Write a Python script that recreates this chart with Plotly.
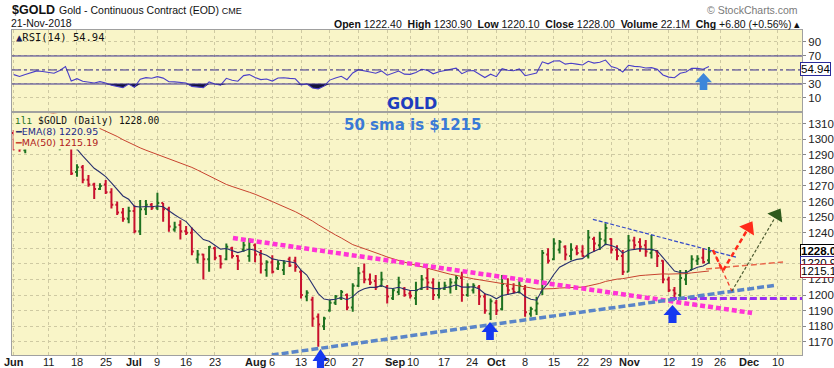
import numpy as np
import plotly.graph_objects as go

# ---------------- data ----------------
# warm-up closes (late Mar - May 2018) used only to seed MA(50), EMA(8), RSI(14)
warm_close = [1317.6, 1311.6, 1332.4, 1328.0, 1349.8, 1354.6, 1341.9, 1325.4, 1327.3,
              1346.7, 1337.3, 1340.3, 1327.3, 1336.0, 1336.5, 1341.3, 1353.2, 1341.1, 1347.9,
              1350.0, 1346.5, 1352.4, 1348.0, 1338.3, 1326.2, 1333.2, 1323.3, 1317.7, 1323.4, 1315.9,
              1305.6, 1306.3, 1311.8, 1314.7, 1313.7, 1313.7, 1313.0, 1322.4, 1320.5, 1318.6,
              1290.3, 1291.3, 1289.4, 1291.3, 1291.3, 1291.7, 1293.7, 1304.1, 1303.7, 1297.5,
              1303.4, 1298.5]

# daily bars, 1-Jun-2018 .. 21-Nov-2018 (trading days)
opens = [1304, 1299, 1293, 1297, 1300, 1303, 1302, 1300, 1298, 1303,
         1308, 1279, 1282, 1274, 1271, 1268, 1271, 1266, 1258, 1253,
         1249, 1254, 1241, 1255, 1258, 1256, 1259, 1255, 1242, 1245,
         1241, 1240, 1223, 1226, 1223, 1230, 1225, 1223, 1230, 1225,
         1229, 1225, 1232, 1226, 1216, 1221, 1217, 1216, 1223, 1222,
         1215, 1199, 1197, 1186, 1180, 1190, 1195, 1198, 1200, 1192,
         1206, 1215, 1210, 1209, 1206, 1205, 1198, 1202, 1204, 1201,
         1198, 1204, 1211, 1208, 1200, 1204, 1205, 1208, 1211, 1200,
         1203, 1205, 1199, 1188, 1195, 1191, 1206, 1204, 1202, 1204,
         1188, 1190, 1202, 1226, 1223, 1229, 1231, 1225, 1230, 1228,
         1225, 1236, 1232, 1235, 1236, 1229, 1225, 1215, 1235, 1234,
         1232, 1227, 1228, 1222, 1210, 1203, 1200, 1210, 1216, 1222,
         1224, 1222.4]
highs = [1306, 1301, 1300, 1303, 1308, 1307, 1305, 1303, 1309, 1313,
         1309, 1284, 1283.4, 1277, 1272, 1271.7, 1273.8, 1268.5, 1260, 1255.8,
         1256.6, 1257.7, 1261, 1261, 1259, 1265.6, 1259, 1256.6, 1247, 1248,
         1244.3, 1243.4, 1228.9, 1226.5, 1231.4, 1231, 1225.6, 1233, 1231, 1225.6,
         1234.2, 1236.4, 1233, 1228.9, 1222.4, 1225.6, 1222.4, 1222.4, 1224.6, 1224.6,
         1216, 1203, 1198.9, 1188.2, 1186, 1196.8, 1200, 1203.2, 1201, 1207.5,
         1218, 1220.3, 1213.9, 1212.8, 1215, 1206.4, 1204.3, 1211.7, 1205.2, 1203.2,
         1208.5, 1212.8, 1217.1, 1210.7, 1208.5, 1208.5, 1210.7, 1212.8, 1215, 1207.5,
         1207.5, 1206.4, 1201, 1197.8, 1196.8, 1212.8, 1210.7, 1207.5, 1209.6, 1206.4,
         1192.5, 1198.9, 1228.9, 1230, 1236.4, 1235.3, 1232, 1233.2, 1232, 1232,
         1241.7, 1237.4, 1240.6, 1246, 1236.4, 1232, 1228.9, 1238.5, 1237.4, 1236.4,
         1235.3, 1238.5, 1228.9, 1222.4, 1211.7, 1205.2, 1216, 1216, 1225.6, 1225.6,
         1230, 1230.9]
lows = [1293, 1292, 1291, 1295, 1297, 1298, 1297, 1296, 1293, 1300,
        1277, 1276, 1271.7, 1269.5, 1261.6, 1267.4, 1264.8, 1255.6, 1251.3, 1247,
        1246, 1239.6, 1238.5, 1251.3, 1254.6, 1254.6, 1247, 1240.6, 1240.6, 1235.7,
        1238.5, 1225.6, 1220.3, 1210, 1215, 1222.4, 1217, 1222.4, 1223.5, 1216,
        1227.8, 1221.3, 1221, 1213.9, 1211.7, 1213.9, 1216, 1212.8, 1218, 1215,
        1197.8, 1196, 1179.6, 1166.8, 1177.5, 1189.3, 1193.6, 1196.8, 1190.3, 1189.3,
        1205.2, 1207.5, 1206.4, 1203.2, 1205.2, 1194.6, 1196.8, 1200, 1198.9, 1197.8,
        1193.6, 1203.2, 1203.2, 1196.8, 1197.8, 1203.2, 1201, 1203.2, 1195.7, 1198.9,
        1201, 1193.6, 1188, 1183.9, 1187.1, 1190, 1200, 1201, 1201, 1186,
        1186, 1187.1, 1200, 1220.3, 1222.4, 1226.7, 1222.4, 1222.4, 1225.6, 1224.6,
        1223.5, 1227.8, 1228.9, 1232, 1226.7, 1222.4, 1212.8, 1215, 1228.9, 1227.8,
        1224.6, 1223.5, 1218, 1207.5, 1202, 1197.8, 1197.8, 1206.4, 1216, 1219.2,
        1220.3, 1220.1]
closes = [1298, 1294, 1297, 1300, 1303, 1302, 1300, 1299, 1303, 1309,
          1278, 1282, 1274, 1271, 1268, 1270, 1266, 1258, 1253, 1249,
          1254, 1241, 1255, 1258, 1256, 1259, 1255, 1244, 1243.5, 1241,
          1240, 1228, 1226, 1223, 1231, 1224, 1220, 1231, 1225, 1222,
          1232, 1234, 1226, 1220, 1221, 1215, 1220, 1220.5, 1219, 1218,
          1200, 1201.5, 1185, 1181, 1185, 1195, 1199, 1202, 1192, 1206,
          1214, 1210, 1208, 1205, 1210, 1199, 1203, 1208, 1200, 1199.5,
          1203, 1210, 1208, 1200, 1204, 1206, 1208, 1211, 1200, 1205,
          1206, 1199, 1190, 1196, 1190, 1207, 1203, 1202, 1206, 1189,
          1191, 1194.5, 1227, 1222, 1233, 1234, 1226, 1229, 1227, 1225,
          1237, 1233, 1236, 1243, 1229, 1225, 1215, 1235, 1232, 1231,
          1228, 1229, 1225, 1210, 1203, 1201, 1211, 1214, 1223, 1223.3,
          1221.2, 1228.0]

# x-axis: trading-day index of each weekly grid line, its label, and where the label sits
tick_idx = [0, 6, 11, 16, 21, 25, 30, 35, 42, 45, 50, 55, 60, 65, 69, 74, 79,
            84, 89, 94, 99, 104, 107, 114, 119, 123, 128, 133]
tick_lbl = ["<b>Jun</b>", "11", "18", "25", "<b>Jul</b>", "9", "16", "23", "<b>Aug</b>", "6",
            "13", "20", "27", "<b>Sep</b>", "10", "17", "24", "<b>Oct</b>", "8", "15", "22", "29",
            "<b>Nov</b>", "12", "19", "26", "<b>Dec</b>", "10"]
label_pos = [0, 6, 11, 16, 21, 25, 30, 35, 42, 45, 50, 55, 60, 66.3, 69.5, 74.8, 79.8,
             84, 89, 94, 99, 103, 107.3, 114, 119, 123, 128, 133]
price_ticks = list(range(1170, 1320, 10))
rsi_ticks = [10, 30, 50, 70, 90]

# hand-drawn annotation lines (trading-day index, price)
pink_line = ([38.15, 128.5], [1236.6, 1188.5])
purple_line = ([114.2, 137.3], [1197.7, 1197.7])
support_line = ([44.9, 132.8], [1161.5, 1206.4])
resist_line = ([100.8, 125.8], [1248.6, 1224.2])
ma_ext_line = ([120.5, 133.9], [1216.7, 1221.2])
red_path = ([121.7, 123.4, 127.9], [1228.9, 1215.4, 1243.2])
red_thin = ([121.7, 125.0], [1228.9, 1202.5])
green_path = ([125.0, 132.8], [1202.5, 1251.5])

# ---------------- indicators ----------------
n = len(closes)
idx = np.arange(n)
allc = np.array(warm_close + closes, dtype=float)
w = len(warm_close)
ma50 = np.array([allc[i - 49:i + 1].mean() for i in range(w, w + n)])
k = 2 / 9
ema = allc[0]
ema_all = []
for v in allc:
    ema = v * k + ema * (1 - k)
    ema_all.append(ema)
ema8 = np.array(ema_all[w:])
d = np.diff(allc)
g = np.where(d > 0, d, 0.0)
l_ = np.where(d < 0, -d, 0.0)
ag, al = g[:14].mean(), l_[:14].mean()
rsi_all = [np.nan] * 15
for i in range(14, len(d)):
    if i > 14:
        ag = (ag * 13 + g[i]) / 14
        al = (al * 13 + l_[i]) / 14
    rsi_all.append(100 - 100 / (1 + ag / al))
rsi_all = np.array(rsi_all[:len(allc)])
rsi = rsi_all[w:]

# ---------------- layout helpers ----------------
W, H = 834, 368
ML, MR, MT, MB = 12, 32, 30, 13
PW, PH = W - ML - MR, H - MT - MB
split = (H - MB - 112) / PH


def px(x):
    return (x - ML) / PW


def py(y):
    return (H - MB - y) / PH


BG = "#F9F5C8"
GRID = "#CEC9A2"
FONT = "Liberation Sans, Arial, sans-serif"

fig = go.Figure()

# RSI panel
fig.add_trace(go.Scatter(x=idx, y=[30] * n, xaxis="x2", yaxis="y2", mode="lines",
                         line=dict(color="rgba(0,0,0,0)", width=0), hoverinfo="skip", showlegend=False))
fig.add_trace(go.Scatter(x=idx, y=np.minimum(rsi, 30), xaxis="x2", yaxis="y2", mode="lines",
                         line=dict(color="rgba(0,0,0,0)", width=0), fill="tonexty",
                         fillcolor="#14143a", hoverinfo="skip", showlegend=False))
fig.add_trace(go.Scatter(x=idx, y=rsi, xaxis="x2", yaxis="y2", mode="lines",
                         line=dict(color="#4A3FC8", width=1.1), hoverinfo="skip", showlegend=False))

# price panel
fig.add_trace(go.Scatter(x=idx, y=ma50, mode="lines", line=dict(color="#C8432F", width=1),
                         hoverinfo="skip", showlegend=False))
fig.add_trace(go.Scatter(x=idx, y=ema8, mode="lines", line=dict(color="#28306E", width=1.1),
                         hoverinfo="skip", showlegend=False))
fig.add_trace(go.Ohlc(x=idx, open=opens, high=highs, low=lows, close=closes,
                      increasing=dict(line=dict(color="#1E7220", width=2)),
                      decreasing=dict(line=dict(color="#C8102E", width=2)),
                      tickwidth=0.32, hoverinfo="skip", showlegend=False))


def dline(pts, color, width, dash):
    fig.add_trace(go.Scatter(x=pts[0], y=pts[1], mode="lines",
                             line=dict(color=color, width=width, dash=dash),
                             hoverinfo="skip", showlegend=False))


dline(pink_line, "#FF33D6", 4.5, "5px,3px")
dline(purple_line, "#9A2EF0", 3, "7px,3px")
dline(support_line, "#5A85C8", 3.5, "7px,3px")
dline(resist_line, "#3348C8", 1.2, "4px,2px")
dline(ma_ext_line, "#E8664A", 1.5, "6px,3px")
dline(red_thin, "#F03A2A", 1.3, "4px,3px")
dline(red_path, "#FF2A1A", 2.5, "5px,3px")
dline(green_path, "#4E5C32", 1.2, "3px,2px")
fig.add_trace(go.Scatter(x=[red_path[0][-1]], y=[red_path[1][-1]], mode="markers",
                         marker=dict(symbol="triangle-up", size=15, angle=31, color="#FF2A1A"),
                         hoverinfo="skip", showlegend=False))
fig.add_trace(go.Scatter(x=[green_path[0][-1]], y=[green_path[1][-1]], mode="markers",
                         marker=dict(symbol="triangle-up", size=15, angle=31, color="#2E5A1C"),
                         hoverinfo="skip", showlegend=False))

shapes = []
# RSI reference lines
for lv, dsh in [(70, "solid"), (30, "solid"), (50, "dashdot")]:
    shapes.append(dict(type="line", xref="x2 domain", yref="y2", x0=0, x1=1, y0=lv, y1=lv,
                       line=dict(color="#3A2F90", width=1, dash=dsh)))


def block_arrow(cx, ty, wdt, hgt, color):
    hh = 0.55 * hgt
    sw = 0.45 * wdt
    pts = [(cx, ty), (cx + wdt / 2, ty + hh), (cx + sw / 2, ty + hh), (cx + sw / 2, ty + hgt),
           (cx - sw / 2, ty + hgt), (cx - sw / 2, ty + hh), (cx - wdt / 2, ty + hh)]
    path = "M " + " L ".join(f"{px(a):.5f},{py(b):.5f}" for a, b in pts) + " Z"
    shapes.append(dict(type="path", xref="paper", yref="paper", path=path,
                       fillcolor=color, line=dict(width=0)))


block_arrow(320.5, 349, 16, 22, "#1638F0")
block_arrow(490, 322, 17, 18, "#1638F0")
block_arrow(672.5, 305, 18, 18, "#1638F0")
block_arrow(703.5, 73, 17, 17, "#3D86DA")

ann = []


def text(x, y, s, size, color="#111", xanchor="left", family=FONT, bg=None, yanchor="middle"):
    a = dict(xref="paper", yref="paper", x=px(x), y=py(y), text=s, showarrow=False,
             xanchor=xanchor, yanchor=yanchor, font=dict(size=size, color=color, family=family))
    if bg:
        a.update(bgcolor=bg, borderpad=1)
    ann.append(a)


# header
text(10, 10, "<b>$GOLD</b>", 12.5)
text(57, 10, "Gold - Continuous Contract (EOD) <span style='font-size:9px'>CME</span>", 10.5)
text(9, 23, "21-Nov-2018", 10.5)
text(802, 24, "<b>Open</b> 1222.40  <b>High</b> 1230.90  <b>Low</b> 1220.10  <b>Close</b> 1228.00  "
     "<b>Volume</b> 22.1M  <b>Chg</b> +6.80 (+0.56%) ▴", 10.5, xanchor="right")
text(800, 10, "© StockCharts.com", 10.5, color="#7a7a7a", xanchor="right")

# panel labels
text(14, 37, "<span style='color:#1c1c5a'>▲</span>RSI(14) 54.94", 10.5, family="DejaVu Sans Mono, monospace")
text(13, 120, "<span style='color:#1E7220'>ılı</span> $GOLD (Daily) 1228.00", 9.6,
     family="DejaVu Sans Mono, monospace", bg=BG)
text(13, 131.5, "<span style='color:#28306E'>━</span><span style='color:#1c2a8a'>EMA(8) 1220.95</span>", 9.5,
     family="DejaVu Sans, sans-serif", bg=BG)
text(13, 142, "<span style='color:#C8432F'>━</span><span style='color:#B02020'>MA(50) 1215.19</span>", 9.5,
     family="DejaVu Sans, sans-serif", bg=BG)

# chart notes
text(412, 104, "<b>GOLD</b>", 16, color="#1E3DBE", xanchor="center", family="DejaVu Sans, sans-serif")
text(412, 125, "<b>50 sma is $1215</b>", 15, color="#3A7AD6", xanchor="center",
     family="DejaVu Sans, sans-serif")

# x-axis labels (placed as text just under the price panel)
for tv, tl in zip(label_pos, tick_lbl):
    ann.append(dict(xref="x", yref="paper", x=tv, y=py(362), text=tl, showarrow=False,
                    xanchor="center", yanchor="middle", font=dict(size=11, color="#1a1a1a", family=FONT)))

# right-axis value boxes
for val, txt, col in [(1228.0, "<b>1228.00</b>", "#000000"), (ema8[-1], "1220.95", "#2A2A9A"),
                      (ma50[-1], "1215.19", "#A02030")]:
    ann.append(dict(xref="paper", yref="y", x=px(800), y=val, text=txt, showarrow=False,
                    xanchor="left", yanchor="middle", bgcolor="white", bordercolor=col, borderwidth=1,
                    borderpad=0, font=dict(size=11.5, color="#000", family=FONT)))
ann.append(dict(xref="paper", yref="y2", x=px(800), y=rsi[-1], yshift=-3, text="54.94", showarrow=False,
                xanchor="left", yanchor="middle", bgcolor="white", bordercolor="#2A2A9A", borderwidth=1,
                borderpad=0, font=dict(size=11.5, color="#000", family=FONT)))

xr = [-0.31, 137.2]
axis_common = dict(showline=True, mirror=True, linecolor="#A0A0A0", linewidth=1, zeroline=False,
                   showgrid=True, gridcolor=GRID, griddash="dot", gridwidth=1, automargin=False)

fig.update_layout(
    width=W, height=H, autosize=False,
    margin=dict(l=ML, r=MR, t=MT, b=MB),
    paper_bgcolor="white", plot_bgcolor=BG,
    showlegend=False, hovermode=False,
    font=dict(family=FONT, color="#222"),
    xaxis=dict(domain=[0, 1], anchor="y", range=xr, tickmode="array", tickvals=tick_idx,
               showticklabels=False, ticks="",
               rangeslider=dict(visible=False), **axis_common),
    yaxis=dict(domain=[0, split], anchor="x", side="right", range=[1161.5, 1317.5],
               tickmode="array", tickvals=price_ticks, ticks="outside", ticklen=3, tickcolor="#888",
               tickfont=dict(size=11.5, color="#222"), **axis_common),
    xaxis2=dict(domain=[0, 1], anchor="y2", range=xr, matches="x", tickmode="array",
                tickvals=tick_idx, showticklabels=False, ticks="", **axis_common),
    yaxis2=dict(domain=[split, 1], anchor="x2", side="right", range=[-10, 107.1],
                tickmode="array", tickvals=rsi_ticks, ticks="outside", ticklen=3, tickcolor="#888",
                tickfont=dict(size=11.5, color="#222"), **axis_common),
    shapes=shapes, annotations=ann,
)

fig.write_html("out.html", config={"displayModeBar": False},
               post_script="document.body.style.margin='0px';document.body.style.padding='0px';")
